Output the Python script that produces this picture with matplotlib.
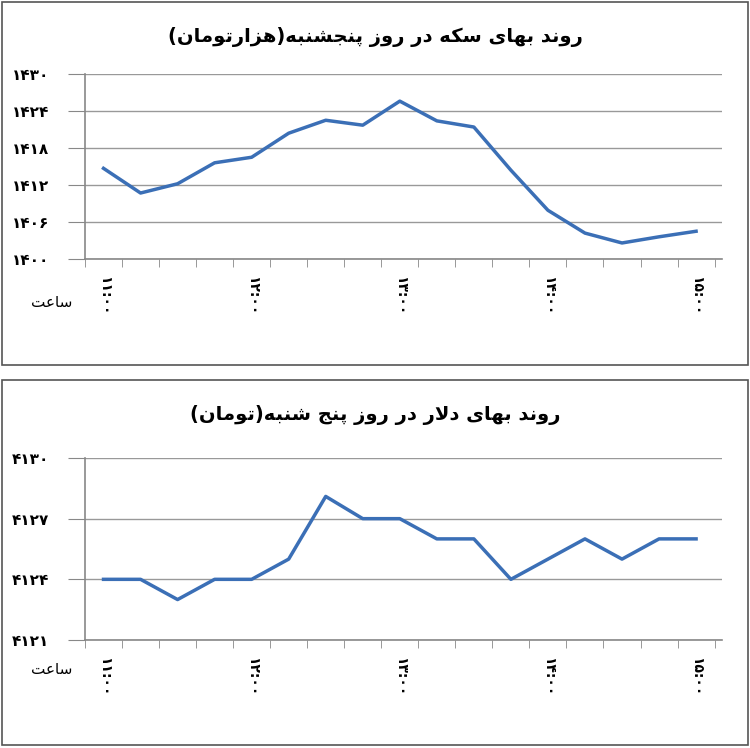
import matplotlib
matplotlib.use("Agg")
import matplotlib.pyplot as plt
from matplotlib.patches import Rectangle

FORMS = {
 'ا':(0xFE8D,0xFE8E,None,None),'ب':(0xFE8F,0xFE90,0xFE91,0xFE92),'پ':(0xFB56,0xFB57,0xFB58,0xFB59),
 'ت':(0xFE95,0xFE96,0xFE97,0xFE98),'ج':(0xFE9D,0xFE9E,0xFE9F,0xFEA0),'چ':(0xFB7A,0xFB7B,0xFB7C,0xFB7D),
 'د':(0xFEA9,0xFEAA,None,None),'ر':(0xFEAD,0xFEAE,None,None),'ز':(0xFEAF,0xFEB0,None,None),
 'س':(0xFEB1,0xFEB2,0xFEB3,0xFEB4),'ش':(0xFEB5,0xFEB6,0xFEB7,0xFEB8),'ک':(0xFB8E,0xFB8F,0xFB90,0xFB91),
 'ل':(0xFEDD,0xFEDE,0xFEDF,0xFEE0),'م':(0xFEE1,0xFEE2,0xFEE3,0xFEE4),'ن':(0xFEE5,0xFEE6,0xFEE7,0xFEE8),
 'ه':(0xFEE9,0xFEEA,0xFEEB,0xFEEC),'و':(0xFEED,0xFEEE,None,None),'ی':(0xFBFC,0xFBFD,0xFBFE,0xFBFF),
 'ع':(0xFEC9,0xFECA,0xFECB,0xFECC),
}

def shape(s):
    s = s.replace('لا', '\uE000')
    out = []
    chars = list(s)
    def joins_left(c):
        return c in FORMS and FORMS[c][2] is not None
    for i, c in enumerate(chars):
        prev = chars[i-1] if i > 0 else ''
        nxt = chars[i+1] if i+1 < len(chars) else ''
        pj = joins_left(prev)
        if c == '\uE000':
            out.append(chr(0xFEFC if pj else 0xFEFB)); continue
        if c not in FORMS:
            out.append({'(': ')', ')': '('}.get(c, c)); continue
        f = FORMS[c]
        nj = (nxt in FORMS or nxt == '\uE000') and f[2] is not None
        if pj and nj: g = f[3]
        elif pj: g = f[1]
        elif nj: g = f[2]
        else: g = f[0]
        out.append(chr(g))
    return ''.join(out[::-1])

def fa(n):
    return ''.join(chr(0x06F0 + int(d)) if d.isdigit() else d for d in str(n))

times = ['11:00','11:15','11:30','11:45','12:00','12:15','12:30','12:45','13:00',
         '13:15','13:30','13:45','14:00','14:15','14:30','14:45','15:00']
coin = [1414.7,1410.7,1412.2,1415.6,1416.5,1420.4,1422.5,1421.7,1425.6,
        1422.4,1421.4,1414.4,1407.9,1404.2,1402.6,1403.6,1404.5]
dollar = [4124,4124,4123,4124,4124,4125,4128.1,4127,4127,4126,4126,4124,4125,4126,4125,4126,4126]
coin_ticks = [1400,1406,1412,1418,1424,1430]
dollar_ticks = [4121,4124,4127,4130]
hour_labels = ['11:00','12:00','13:00','14:00','15:00']
title1 = 'روند بهای سکه در روز پنجشنبه(هزارتومان)'
title2 = 'روند بهای دلار در روز پنج شنبه(تومان)'
xlabel = 'ساعت'

plt.rcParams['font.family'] = ['DejaVu Sans']
fig = plt.figure(figsize=(7.5, 7.48), dpi=100)
W, H = 750, 748
for (y0, y1) in [(2, 365), (380, 745)]:
    fig.patches.append(Rectangle((2/W, 1-y1/H), 746/W, (y1-y0)/H, transform=fig.transFigure,
                                 fill=False, ec='#555555', lw=1.2))

def panel(top, bottom, vals, ticks, title, ty, yl_y):
    ax = fig.add_axes([85/W, 1-bottom/H, (722-85)/W, (bottom-top)/H])
    x = list(range(len(vals)))
    ax.plot(x, vals, color='#3b6fb6', lw=2.5)
    ax.set_xlim(-0.5, len(vals)-0.5 + 0.2)
    ax.set_ylim(ticks[0], ticks[-1])
    ax.set_yticks(ticks)
    ax.set_yticklabels([fa(t) for t in ticks], fontsize=11, fontweight='bold')
    ax.grid(axis='y', color='#999999', lw=1)
    ax.set_xticks([i - 0.5 for i in range(len(vals)+1)], minor=True)
    ax.set_xticks([times.index(h) for h in hour_labels])
    ax.set_xticklabels([fa(h) for h in hour_labels], rotation=-90, fontsize=10, fontweight='bold')
    ax.tick_params(axis='x', which='both', length=6, color='#888888')
    ax.tick_params(axis='x', which='major', length=0, pad=12)
    ax.tick_params(axis='y', length=12, color='#888888', direction='out', pad=14)
    for s in ['top', 'right']:
        ax.spines[s].set_visible(False)
    for s in ['left', 'bottom']:
        ax.spines[s].set_color('#888888'); ax.spines[s].set_linewidth(1.2)
    fig.text(0.5, 1-ty/H, shape(title), ha='center', va='center', fontsize=14, fontweight='bold')
    fig.text(52/W, 1-yl_y/H, shape(xlabel), ha='center', va='center', fontsize=11)
    return ax

panel(74, 259, coin, coin_ticks, title1, 37, 303)
panel(458, 640, dollar, dollar_ticks, title2, 415, 670)
fig.savefig('out.png', dpi=100)
